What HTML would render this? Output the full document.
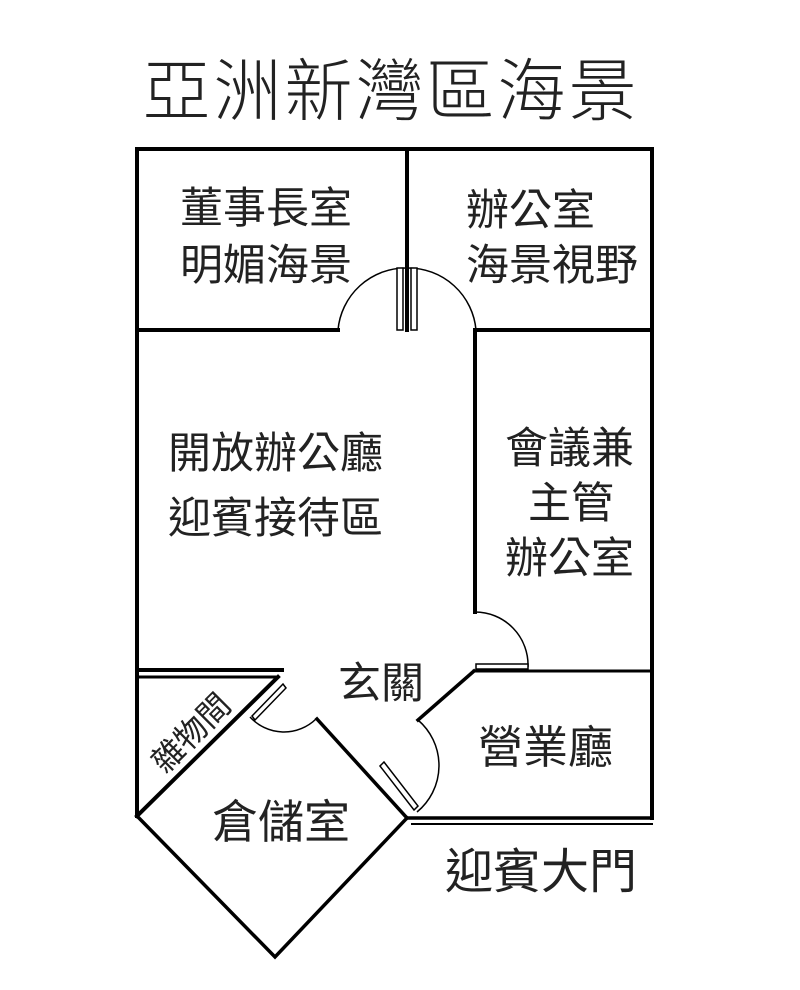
<!DOCTYPE html>
<html><head><meta charset="utf-8"><style>
html,body{margin:0;padding:0;background:#fff;}
svg{display:block}
text{font-family:"Liberation Sans","Noto Sans CJK TC",sans-serif;fill:#222;}
</style></head><body>
<svg width="800" height="990" viewBox="0 0 800 990" xmlns="http://www.w3.org/2000/svg">
<text x="391" y="115" font-size="68" text-anchor="middle" letter-spacing="3" font-weight="300">亞洲新灣區海景</text>
<g stroke="#000" fill="none" stroke-width="4" stroke-linecap="square">
 <path d="M137 816 L137 149 L652 149 L652 818"/>
 <path d="M407 149 L407 330"/>
 <path d="M137 330 L338 330"/>
 <path d="M476 330 L652 330"/>
 <path d="M475 330 L475 612"/>
 <path d="M137 670 L282 670"/>
 <path d="M137 677 L278 677" stroke-width="3"/>
 <path d="M474 671 L652 671" stroke-width="3"/>
 <path d="M278 677 L137 816"/>
 <path d="M474 671 L418 720" stroke-width="3.5"/>
 <path d="M317 719 L407 818" stroke-width="3.5"/>
 <path d="M137 816 L275 957 L407 818" stroke-width="3.5"/>
 <path d="M407 818 L652 818" stroke-width="3.5"/>
 <path d="M412 824 L652 824" stroke-width="2"/>
</g>
<g stroke="#000" fill="none" stroke-width="1.5">
 <path d="M338 330 A68 68 0 0 1 406 268"/>
 <path d="M408 268 A68 68 0 0 1 476 330"/>
 <rect x="397" y="268" width="6" height="62" fill="#fff"/>
 <rect x="411" y="268" width="6" height="62" fill="#fff"/>
 <path d="M475 612 A53 53 0 0 1 528 667"/>
 <rect x="476" y="664" width="52" height="5" fill="#fff"/>
 <path d="M252 716 L283 684 L286 688 L255 720 Z" fill="#fff"/>
 <path d="M250 717 A46 46 0 0 0 316 719"/>
 <path d="M418 720 A60 60 0 0 1 417 812"/>
 <path d="M380 766 L414 810 L418 806 L384 762 Z" fill="#fff"/>
</g>
<g font-size="43">
 <text x="180" y="223">董事長室</text>
 <text x="180" y="280">明媚海景</text>
 <text x="466" y="225">辦公室</text>
 <text x="466" y="280">海景視野</text>
 <text x="168" y="468">開放辦公廳</text>
 <text x="168" y="533">迎賓接待區</text>
 <text x="505" y="463">會議兼</text>
 <text x="528" y="518">主管</text>
 <text x="505" y="573">辦公室</text>
 <text x="338" y="698">玄關</text>
 <text x="478" y="763" font-size="45">營業廳</text>
 <text x="212" y="838" font-size="46">倉儲室</text>
 <text x="445" y="888" font-size="48">迎賓大門</text>
</g>
<text x="193" y="735" font-size="32" text-anchor="middle" dominant-baseline="middle" transform="rotate(-45 193 735)">雜物間</text>
</svg>
</body></html>
